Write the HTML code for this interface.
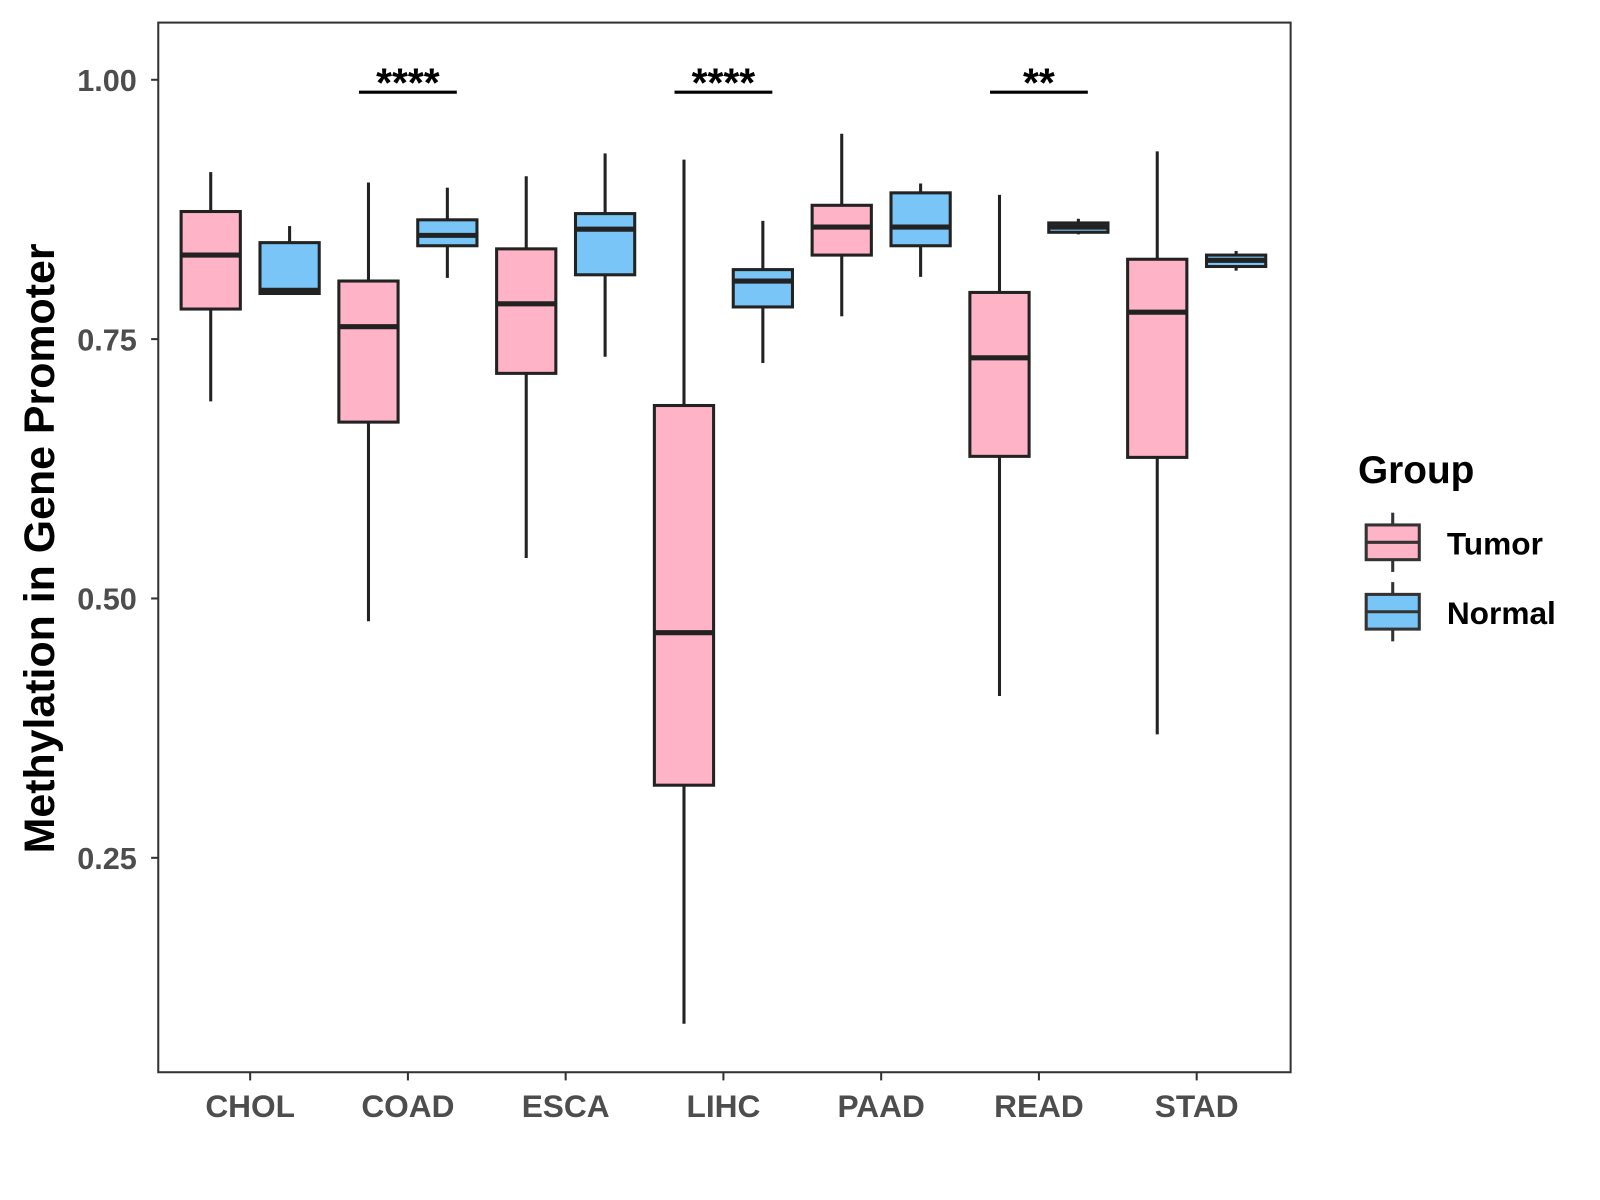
<!DOCTYPE html>
<html><head><meta charset="utf-8"><style>
html,body{margin:0;padding:0;background:#fff;}
svg{display:block;font-family:"Liberation Sans",Arial,sans-serif;}
</style></head><body>
<svg id="chart" width="1600" height="1200" viewBox="0 0 1567 1175" xmlns="http://www.w3.org/2000/svg">
<rect x="0" y="0" width="1567" height="1175" fill="#fff"/>
<rect x="155" y="22" width="1109" height="1028" fill="none" stroke="#333" stroke-width="2"/>
<g id="marks"></g>
<text transform="translate(53,537) rotate(-90)" text-anchor="middle" font-size="42" font-weight="bold" fill="#000">Methylation in Gene Promoter</text>
<text x="1330" y="473" font-size="38" font-weight="bold" fill="#000">Group</text>
<g>
<line x1="1364" y1="502" x2="1364" y2="560" stroke="#333" stroke-width="3"/>
<rect x="1338" y="514" width="52" height="34" fill="#FFB3C6" stroke="#333" stroke-width="3"/>
<line x1="1338" y1="531" x2="1390" y2="531" stroke="#333" stroke-width="3"/>
<text x="1417" y="543" font-size="31" font-weight="bold" fill="#000">Tumor</text>
</g>
<g>
<line x1="1364" y1="570" x2="1364" y2="628" stroke="#333" stroke-width="3"/>
<rect x="1338" y="582" width="52" height="34" fill="#7AC5F8" stroke="#333" stroke-width="3"/>
<line x1="1338" y1="599" x2="1390" y2="599" stroke="#333" stroke-width="3"/>
<text x="1417" y="611" font-size="31" font-weight="bold" fill="#000">Normal</text>
</g>
</svg>
<script>
const categories = ["CHOL","COAD","ESCA","LIHC","PAAD","READ","STAD"];
// [lowWhisker, Q1, median, Q3, highWhisker]
const tumorStats = [
 [0.690,0.779,0.831,0.873,0.911],
 [0.478,0.670,0.762,0.806,0.901],
 [0.539,0.717,0.784,0.837,0.907],
 [0.090,0.320,0.467,0.686,0.923],
 [0.772,0.831,0.858,0.879,0.948],
 [0.406,0.637,0.732,0.795,0.889],
 [0.369,0.636,0.776,0.827,0.931]
];
const normalStats = [
 [0.794,0.794,0.797,0.843,0.859],
 [0.809,0.840,0.850,0.865,0.896],
 [0.733,0.812,0.856,0.871,0.929],
 [0.727,0.781,0.806,0.817,0.864],
 [0.810,0.840,0.858,0.891,0.900],
 [0.851,0.853,0.858,0.862,0.866],
 [0.816,0.820,0.826,0.831,0.835]
];
const yTicks = [0.25,0.50,0.75,1.00];
const yTickLabels = ["0.25","0.50","0.75","1.00"];
const sigCategories = ["COAD","LIHC","READ"];
const sigLabels = ["****","****","**"];
const sigLevel = 0.988;

const NS="http://www.w3.org/2000/svg";
const g=document.getElementById('marks');
const yS=v=>78+(1-v)*1016;
const xS=i=>245+i*154.5;
const step=154.5, bw=58;
function el(t,a){const e=document.createElementNS(NS,t);for(const k in a)e.setAttribute(k,a[k]);g.appendChild(e);return e;}

yTicks.forEach((t,i)=>{
 const tk=el('line',{x1:148,x2:155,y1:yS(t),y2:yS(t),stroke:'#333','stroke-width':2});
 
 
 const tx=el('text',{x:134,y:yS(t)+11,'text-anchor':'end','font-size':30,'font-weight':'bold',fill:'#4d4d4d'});
 tx.textContent=yTickLabels[i];
 
 
});
categories.forEach((c,i)=>{
 const tk=el('line',{x1:xS(i),x2:xS(i),y1:1050,y2:1058,stroke:'#333','stroke-width':2});
 
 
 const tx=el('text',{x:xS(i),y:1094,'text-anchor':'middle','font-size':31,'font-weight':'bold',fill:'#4d4d4d'});
 tx.textContent=c;
 
 
});
function box(cx,s,fill,name){
 const w=el('line',{x1:cx,x2:cx,y1:yS(s[4]),y2:yS(s[3]),stroke:'#222','stroke-width':3});
 
 
 const w2=el('line',{x1:cx,x2:cx,y1:yS(s[1]),y2:yS(s[0]),stroke:'#222','stroke-width':3});
 
 
 const r=el('rect',{x:cx-bw/2,y:yS(s[3]),width:bw,height:Math.max(yS(s[1])-yS(s[3]),1),fill:fill,stroke:'#222','stroke-width':3});
 
 
 const m=el('line',{x1:cx-bw/2,x2:cx+bw/2,y1:yS(s[2]),y2:yS(s[2]),stroke:'#222','stroke-width':5});
 
 
}
categories.forEach((c,i)=>{
 box(xS(i)-step*0.25,tumorStats[i],'#FFB3C6',c.toLowerCase()+'-tumor');
 box(xS(i)+step*0.25,normalStats[i],'#7AC5F8',c.toLowerCase()+'-normal');
});
sigCategories.forEach((c,k)=>{
 const i=categories.indexOf(c);
 const l=el('line',{x1:xS(i)-step*0.31,x2:xS(i)+step*0.31,y1:yS(sigLevel),y2:yS(sigLevel),stroke:'#000','stroke-width':3});
 
 
 const t=el('text',{x:xS(i),y:yS(sigLevel)+4,'text-anchor':'middle','font-size':40,'font-weight':'bold',fill:'#000'});
 t.textContent=sigLabels[k];
 
 
});
</script>
</body></html>
